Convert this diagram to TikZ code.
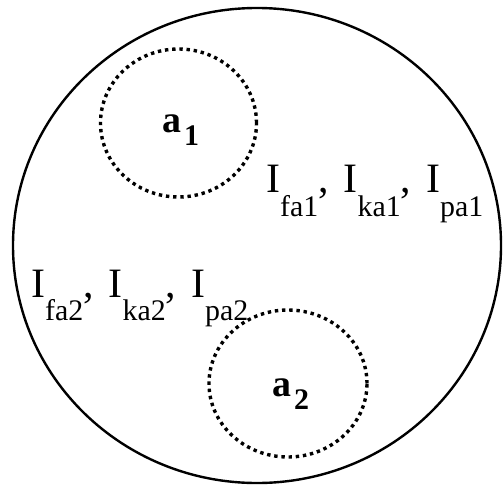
\documentclass[tikz,border=0pt]{standalone}
\usepackage{fontspec}
\setmainfont{Liberation Serif}
% lowered index, plain and bold
\newcommand{\lowsub}[1]{\raisebox{-23bp}{\fontsize{30}{30}\selectfont #1}}
\newcommand{\boldsub}[1]{\hspace{3bp}\raisebox{-13bp}{\fontsize{30}{30}\selectfont\bfseries #1}}
\newcommand{\sep}{,\hspace{15bp}}
\tikzset{
  ring/.style={line width=2.4bp},
  dotring/.style={line width=3.4bp, dash pattern=on 3.4bp off 3.8bp},
  ilabel/.style={inner sep=0pt, anchor=base west, font=\fontsize{42}{42}\selectfont},
  alabel/.style={inner sep=0pt, anchor=base west, font=\fontsize{38}{38}\selectfont\bfseries}
}
\begin{document}
\begin{tikzpicture}[x=1bp,y=-1bp]
    % --- page size ---
    \useasboundingbox (0,0) rectangle (503,485);

    % --- outer set ---
    \draw[ring] (257,245.5) ellipse [x radius=244bp, y radius=237.5bp];

    % --- the two dotted areas ---
    \draw[dotring] (178.5,123) ellipse [x radius=78bp, y radius=74bp];
    \draw[dotring] (288,383.5) ellipse [x radius=79bp, y radius=73.5bp];

    % --- area names ---
    \node[alabel] (a1) at (162,133) {a\boldsub{1}};
    \node[alabel] (a2) at (272,396) {a\boldsub{2}};

    % --- index lists ---
    \node[ilabel] (inda1) at (266,193) {I\lowsub{fa1}\sep I\lowsub{ka1}\sep I\lowsub{pa1}};
    \node[ilabel] (inda2) at (31,297) {I\lowsub{fa2}\sep I\lowsub{ka2}\sep I\lowsub{pa2}};
\end{tikzpicture}
\end{document}
